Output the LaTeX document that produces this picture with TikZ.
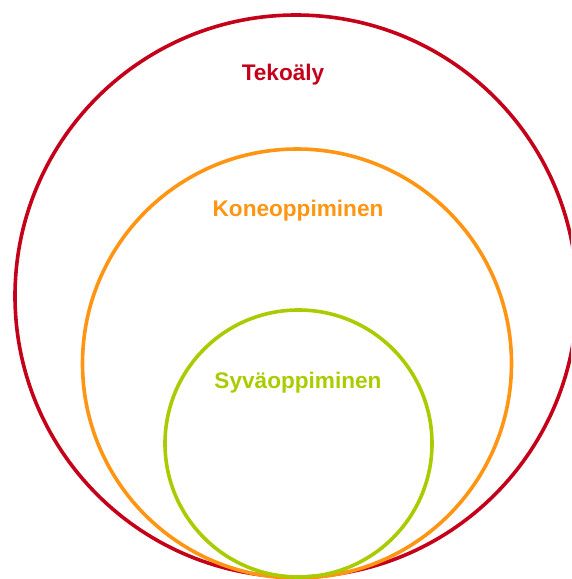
\documentclass[tikz,border=0pt]{standalone}
\usepackage{fontspec}
\setmainfont{Liberation Sans}
\definecolor{aired}{HTML}{C5001A}
\definecolor{mlorange}{HTML}{FF9512}
\definecolor{dlgreen}{HTML}{A8CC00}
\tikzset{
  ring/.style={line width=3.6pt},
  lbl/.style={font=\fontsize{22.6}{25}\selectfont\bfseries, inner sep=0pt}
}
\begin{document}
\begin{tikzpicture}[x=1pt,y=-1pt]
\useasboundingbox (0,0) rectangle (571,579);
\begin{scope}
\clip (0,0) rectangle (571,579);
\draw[ring, aired] (296,296) circle (281);
\draw[ring, mlorange] (297,363.5) circle (214.5);
\draw[ring, dlgreen] (298.5,443.5) circle (133.5);
\end{scope}
\node[lbl, text=aired] (ai) at (283,74.5) {Tekoäly};
\node[lbl, text=mlorange] (ml) at (298,211) {Koneoppiminen};
\node[lbl, text=dlgreen] (dl) at (298,383) {Syväoppiminen};
\end{tikzpicture}
\end{document}
